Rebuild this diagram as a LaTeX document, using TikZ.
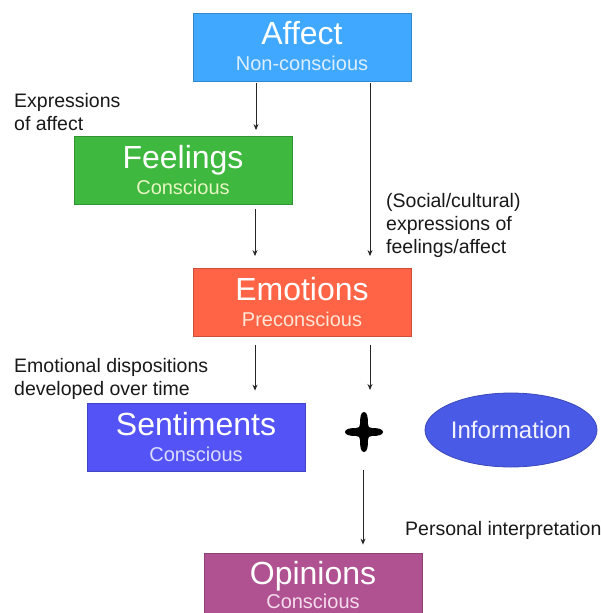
\documentclass[tikz,border=0pt]{standalone}
\usepackage{fontspec}
\setmainfont{Liberation Sans}
\usetikzlibrary{arrows.meta,shapes.geometric}
\tikzset{>={Stealth[length=6bp,width=5bp]}}

\definecolor{affectblue}{RGB}{64,169,255}
\definecolor{feelgreen}{RGB}{62,184,62}
\definecolor{emotred}{RGB}{255,100,70}
\definecolor{sentblue}{RGB}{84,84,246}
\definecolor{opinpurple}{RGB}{176,82,146}
\definecolor{infoblue}{RGB}{72,90,230}
\definecolor{affectsub}{RGB}{221,238,255}
\definecolor{feelsub}{RGB}{232,246,196}
\definecolor{emotsub}{RGB}{255,230,214}
\definecolor{sentsub}{RGB}{220,220,255}
\definecolor{opinsub}{RGB}{245,220,236}
\definecolor{infotext}{RGB}{242,242,255}

\begin{document}
\begin{tikzpicture}[x=1bp, y=-1bp,
    stagebox/.style={draw=#1!80!black, fill=#1, line width=0.8bp,
        minimum width=218bp, minimum height=68bp, inner sep=0pt},
    stagetitle/.style={text=white, font=\fontsize{32bp}{36bp}\selectfont,
        anchor=base, inner sep=0pt},
    stagesub/.style={text=#1, font=\fontsize{20bp}{23bp}\selectfont,
        anchor=base, inner sep=0pt},
    note/.style={text=black!90, font=\fontsize{19.5bp}{23bp}\selectfont,
        anchor=base west, align=left, inner sep=0pt},
    arr/.style={->, line width=0.9bp, black!85}]
    \useasboundingbox (0,0) rectangle (601,613);
    \fill[white] (0,0) rectangle (601,613);
    \clip (0,0) rectangle (601,613);

    % stages
    \node[stagebox=affectblue] (affect) at (302,47) {};
    \node[stagetitle] (affect-t) at ([yshift=2bp]affect.center) {Affect};
    \node[stagesub=affectsub] (affect-s) at ([yshift=-24bp]affect.center) {Non-conscious};

    \node[stagebox=feelgreen] (feelings) at (183,170.5) {};
    \node[stagetitle] (feelings-t) at ([yshift=2bp]feelings.center) {Feelings};
    \node[stagesub=feelsub] (feelings-s) at ([yshift=-24bp]feelings.center) {Conscious};

    \node[stagebox=emotred] (emotions) at (302,302.5) {};
    \node[stagetitle] (emotions-t) at ([yshift=2bp]emotions.center) {Emotions};
    \node[stagesub=emotsub] (emotions-s) at ([yshift=-24bp]emotions.center) {Preconscious};

    \node[stagebox=sentblue] (sentiments) at (196,437) {};
    \node[stagetitle] (sentiments-t) at ([yshift=2bp]sentiments.center) {Sentiments};
    \node[stagesub=sentsub] (sentiments-s) at ([yshift=-24bp]sentiments.center) {Conscious};

    \node[stagebox=opinpurple] (opinions) at (313,587) {};
    \node[stagetitle] (opinions-t) at ([yshift=3bp]opinions.center) {Opinions};
    \node[stagesub=opinsub] (opinions-s) at ([yshift=-21bp]opinions.center) {Conscious};

    \node[ellipse, fill=infoblue, draw=infoblue!80!black, line width=0.8bp,
        minimum width=172bp, minimum height=74bp, inner sep=0pt,
        text=infotext, font=\fontsize{24bp}{28bp}\selectfont]
        (info) at (511,430) {Information};

    % the plus
    \node[inner sep=0pt, minimum width=38bp, minimum height=40bp] (plus) at (364,432) {};
    \fill[black, shift={(plus.center)}] (0,-20) .. controls (3.5,-20) and (4,-14) .. (4,-8)
        .. controls (4,-5) and (5,-4) .. (8,-4) .. controls (14,-4) and (19,-3) .. (19,0)
        .. controls (19,3) and (14,4) .. (8,4) .. controls (5,4) and (4,5) .. (4,8)
        .. controls (4,14) and (3.5,20) .. (0,20) .. controls (-3.5,20) and (-4,14) .. (-4,8)
        .. controls (-4,5) and (-5,4) .. (-8,4) .. controls (-14,4) and (-19,3) .. (-19,0)
        .. controls (-19,-3) and (-14,-4) .. (-8,-4) .. controls (-5,-4) and (-4,-5) .. (-4,-8)
        .. controls (-4,-14) and (-3.5,-20) .. (0,-20) -- cycle;
    \coordinate (sum-in) at (370,390);
    \coordinate (sum-out) at (363,470);

    % labels
    \node[note] (expr-lbl) at (14,131) {Expressions\\of affect};
    \node[note] (social-lbl) at (386,253) {(Social/cultural)\\expressions of\\feelings/affect};
    \node[note] (disp-lbl) at (14,395) {Emotional dispositions\\developed over time};
    \node[note] (interp-lbl) at (405,535) {Personal interpretation};

    % arrows
    \draw[arr, shorten <=2bp, shorten >=6bp] (affect.south -| 256,0) -- (feelings.north -| 256,0);
    \draw[arr, shorten <=2bp, shorten >=12bp] (affect.south -| 370,0) -- (emotions.north -| 370,0);
    \draw[arr, shorten <=4bp, shorten >=12bp] (feelings.south -| 255,0) -- (emotions.north -| 255,0);
    \draw[arr, shorten <=8bp, shorten >=12bp] (emotions.south -| 255,0) -- (sentiments.north -| 255,0);
    \draw[arr, shorten <=8bp] (emotions.south -| 370,0) -- (sum-in);
    \draw[arr, shorten >=8bp] (sum-out) -- (opinions.north -| sum-out);
\end{tikzpicture}
\end{document}
